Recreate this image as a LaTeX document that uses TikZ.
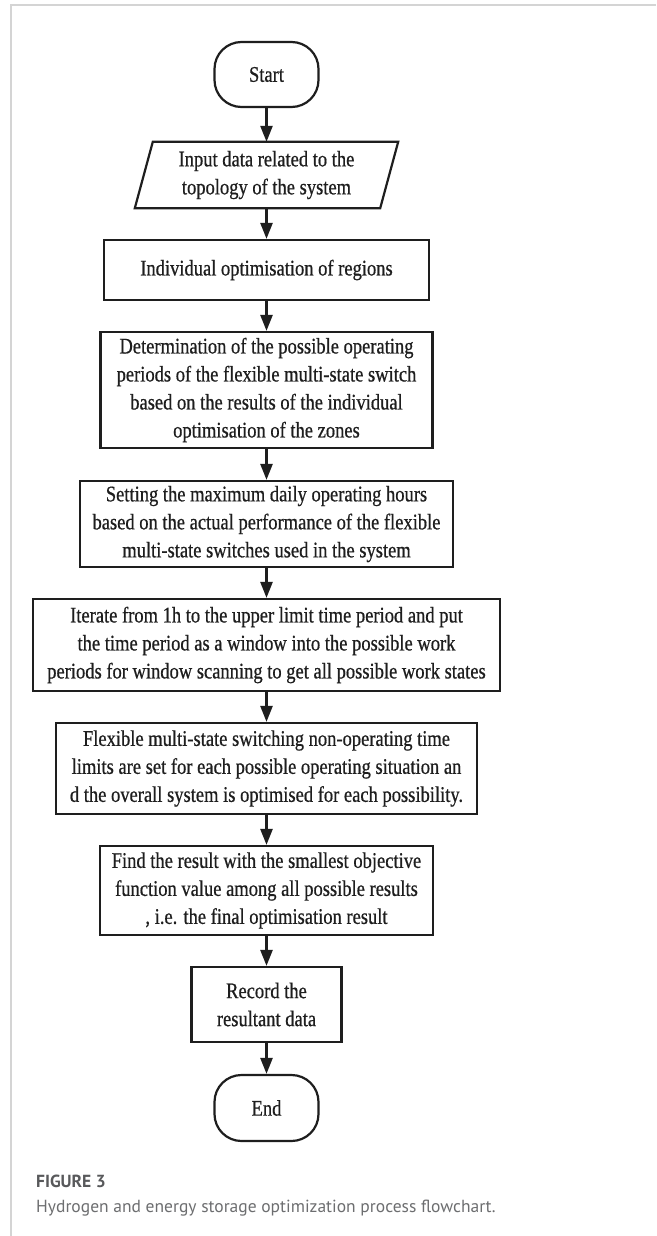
\documentclass[tikz,border=0pt]{standalone}
\usepackage{fontspec}
\setmainfont[FakeStretch=0.83,FakeBold=0.6]{Liberation Serif}
\newfontfamily\capfont{PT Sans}
\usetikzlibrary{arrows.meta,calc}
\definecolor{framegray}{HTML}{D4D4D4}
\definecolor{figgray}{HTML}{58595B}
\definecolor{capgray}{HTML}{6D6E70}
\definecolor{ink}{HTML}{1E1E1E}
\tikzset{
  box/.style={draw=ink, line width=2.2pt, inner sep=0pt, align=center,
    font=\fontsize{22.3}{28}\selectfont, text=ink},
  term/.style={box, rounded corners=27pt, minimum width=104pt, minimum height=65pt},
  iobox/.style={inner sep=0pt, align=center, font=\fontsize{22.3}{28}\selectfont, text=ink,
    minimum width=245pt, minimum height=66pt},
  flow/.style={draw=ink, line width=2.4pt, -{Triangle[width=12pt,length=16pt]}}
}
\begin{document}
\begin{tikzpicture}[x=1pt,y=-1pt]
\useasboundingbox (0,0) rectangle (656,1236);
\fill[white] (0,0) rectangle (656,1236);
\draw[framegray, line width=1.3pt] (11,1236) -- (11,5) -- (656,5);

\node[term] (start) at (266.5,74.5) {Start};
\node[iobox] (input) at (266.5,175) {Input data related to the\\topology of the system};
\draw[draw=ink, line width=2.2pt, line join=miter]
  ($(input.north west)+(9,0)$) -- ($(input.north east)+(9,0)$) --
  ($(input.south east)+(-9,0)$) -- ($(input.south west)+(-9,0)$) -- cycle;
\node[box, minimum width=325pt, minimum height=60pt] (indiv) at (266.5,270) {Individual optimisation of regions};
\node[box, minimum width=332pt, minimum height=116pt] (determ) at (266.5,390)
  {Determination of the possible operating\\periods of the flexible multi-state switch\\based on the results of the individual\\optimisation of the zones};
\node[box, minimum width=373pt, minimum height=86pt] (setting) at (266.5,524)
  {Setting the maximum daily operating hours\\based on the actual performance of the flexible\\multi-state switches used in the system};
\node[box, minimum width=467pt, minimum height=92pt] (iter) at (266.5,645)
  {Iterate from 1h to the upper limit time period and put\\the time period as a window into the possible work\\periods for window scanning to get all possible work states};
\node[box, minimum width=421pt, minimum height=91pt] (flex) at (266.5,768.5)
  {Flexible multi-state switching non-operating time\\limits are set for each possible operating situation an\\d the overall system is optimised for each possibility.};
\node[box, minimum width=333pt, minimum height=89pt] (find) at (266.5,890.5)
  {Find the result with the smallest objective\\function value among all possible results\\, i.e. the final optimisation result};
\node[box, minimum width=150pt, minimum height=75pt] (record) at (266.5,1004.5)
  {Record the\\resultant data};
\node[term, minimum height=66pt] (end) at (266.5,1108) {End};

\draw[flow] (start) -- (input);
\draw[flow] (input) -- (indiv);
\draw[flow] (indiv) -- (determ);
\draw[flow] (determ) -- (setting);
\draw[flow] (setting) -- (iter);
\draw[flow] (iter) -- (flex);
\draw[flow] (flex) -- (find);
\draw[flow] (find) -- (record);
\draw[flow] (record) -- (end);

\node[anchor=base west, inner sep=0pt, text=figgray, font=\capfont\bfseries\fontsize{17.5}{20}\selectfont] (figlabel) at (36,1187) {FIGURE 3};
\node[anchor=base west, inner sep=0pt, text=capgray, font=\capfont\fontsize{17.5}{20}\selectfont] (caption) at (36,1212) {Hydrogen and energy storage optimization process flowchart.};
\end{tikzpicture}
\end{document}
